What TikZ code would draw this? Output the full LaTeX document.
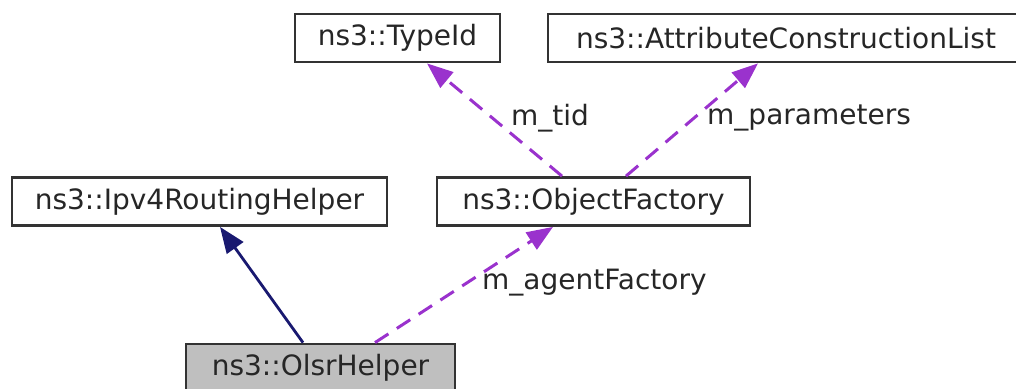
\documentclass[tikz,border=0pt]{standalone}
\usepackage{fontspec}
\setmainfont{DejaVu Sans}
\usetikzlibrary{arrows.meta}
\definecolor{usecol}{HTML}{9A32CD}
\definecolor{basecol}{HTML}{191970}
\definecolor{selfcol}{HTML}{BFBFBF}
\begin{document}
\begin{tikzpicture}[x=1pt,y=-1pt,
    cls/.style={draw=black!80,line width=2.8pt,fill=white,minimum height=48pt,inner sep=0pt,
        font=\fontsize{28}{33}\selectfont,text=black!85},
    lbl/.style={inner sep=0pt,anchor=west,font=\fontsize{28}{33}\selectfont,text=black!85},
    usedep/.style={draw=usecol,line width=3pt,dash pattern=on 16pt off 10pt,
        -{Triangle[length=26pt,width=20pt]}},
    inherit/.style={draw=basecol,line width=2.8pt,-{Triangle[length=26pt,width=20pt]}}]

    \useasboundingbox (0,0) rectangle (1016,388);
    \clip (0,0) rectangle (1016,388);

    \node[cls,minimum width=205pt] (tid) at (397.5,38) {ns3::TypeId};
    \node[cls,minimum width=476pt] (acl) at (786,38) {ns3::AttributeConstructionList};
    \node[cls,minimum width=375pt] (ipv4) at (199.5,201.5) {ns3::Ipv4RoutingHelper};
    \node[cls,minimum width=313pt] (objf) at (593.5,201.5) {ns3::ObjectFactory};
    \node[cls,fill=selfcol,minimum width=269pt] (olsr) at (320.5,368) {ns3::OlsrHelper};

    \draw[inherit] ([xshift=-17.5pt]olsr.north) -- ([xshift=20.5pt]ipv4.south);
    \draw[usedep] ([xshift=54.5pt]olsr.north) -- ([xshift=-40.5pt]objf.south);
    \draw[usedep] ([xshift=-31.5pt]objf.north) -- ([xshift=29.5pt]tid.south);
    \draw[usedep] ([xshift=32.5pt]objf.north) -- ([xshift=-28pt]acl.south);

    \node[lbl] (lagent) at (482,283) {m\_agentFactory};
    \node[lbl] (ltid) at (511,118) {m\_tid};
    \node[lbl] (lpar) at (707,118) {m\_parameters};

\end{tikzpicture}
\end{document}
